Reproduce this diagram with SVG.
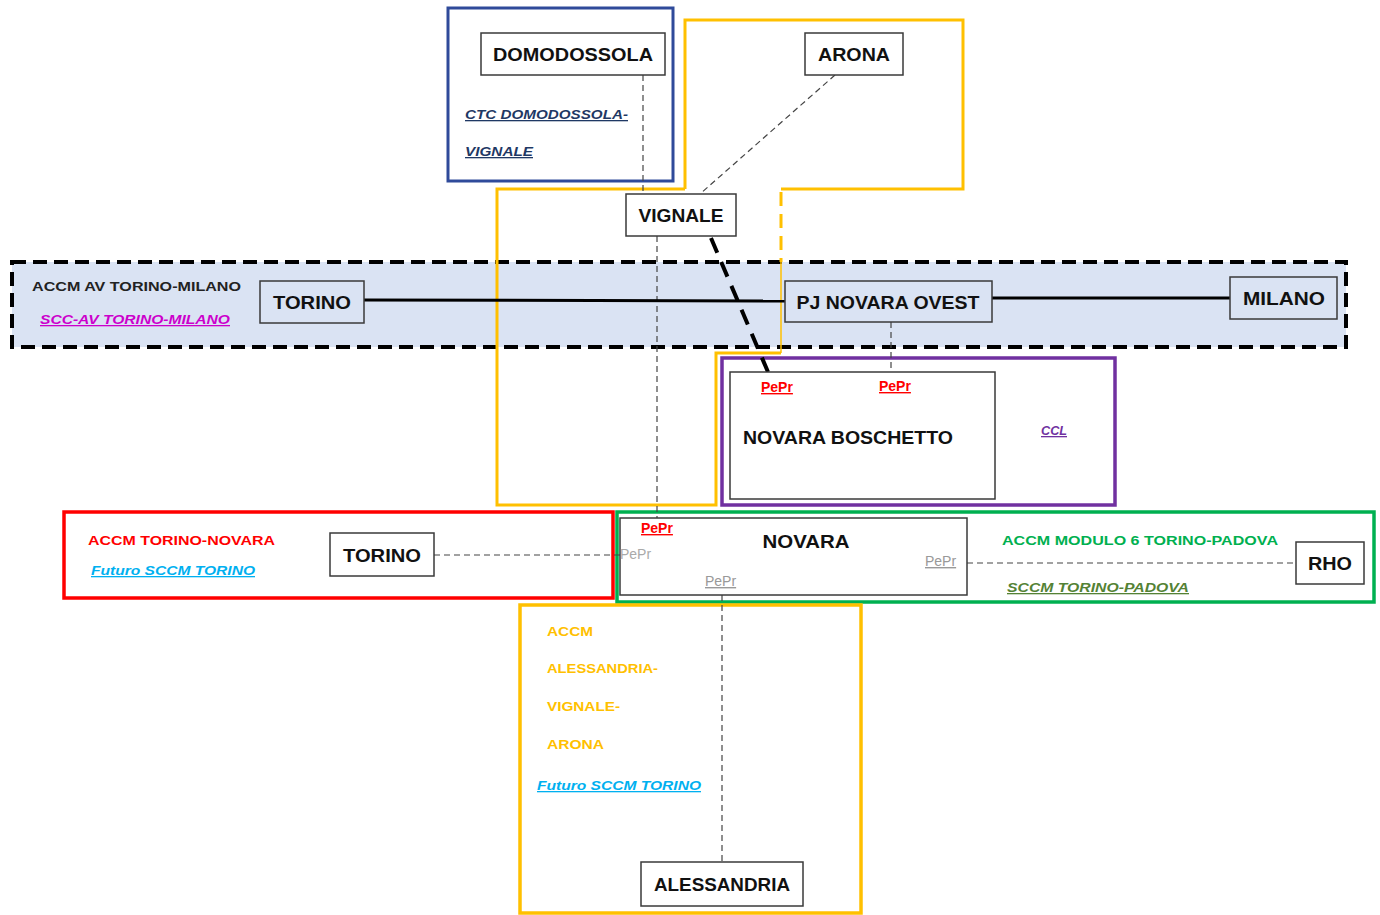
<svg xmlns="http://www.w3.org/2000/svg" width="1380" height="915" viewBox="0 0 1380 915">
<style>
  .node rect { fill: #ffffff; stroke: #3a3a3a; stroke-width: 1.5; }
  .nodeT rect { fill: #dae3f3; stroke: #3a3a3a; stroke-width: 1.5; }
  .lbl { font-family: "Liberation Sans", Arial, sans-serif; font-weight: bold; font-size: 19px; fill: #111; }
  .sm { font-family: "Liberation Sans", Arial, sans-serif; font-weight: bold; font-size: 13px; }
  .it { font-style: italic; text-decoration: underline; }
  .pepr { font-family: "Liberation Sans", Arial, sans-serif; font-size: 14px; }
  .dash { fill: none; stroke: #444; stroke-width: 1.2; stroke-dasharray: 6 4; }
</style>

<!-- background -->
<rect x="0" y="0" width="1380" height="915" fill="#ffffff"/>

<!-- regions -->
<g id="region-av">
  <rect x="12" y="262" width="1334" height="85" fill="#dae3f3" stroke="#000" stroke-width="4" stroke-dasharray="14 7"/>
</g>
<g id="region-ctc">
  <rect x="448" y="8" width="225" height="173" fill="none" stroke="#2f4a9a" stroke-width="3"/>
</g>
<g id="region-yellow-top">
  <path d="M685,189 L685,20 L963,20 L963,189 L781,189 M781,353 L716,353 L716,505 L497,505 L497,189 L685,189" fill="none" stroke="#ffc000" stroke-width="3"/>
  <line x1="781" y1="192" x2="781" y2="262" stroke="#ffc000" stroke-width="3" stroke-dasharray="14 8"/>
  <line x1="781" y1="262" x2="781" y2="353" stroke="#ffc000" stroke-width="1.5"/>
</g>
<g id="region-ccl">
  <rect x="722" y="358" width="393" height="147" fill="#ffffff" stroke="#7030a0" stroke-width="3.5"/>
</g>
<g id="region-red">
  <rect x="64" y="512" width="549" height="86" fill="#ffffff" stroke="#ff0000" stroke-width="3.5"/>
</g>
<g id="region-green">
  <rect x="617" y="512" width="757" height="90" fill="#ffffff" stroke="#00b050" stroke-width="3.5"/>
</g>
<g id="region-yellow-bottom">
  <rect x="520" y="605" width="341" height="308" fill="#ffffff" stroke="#ffc000" stroke-width="3.5"/>
</g>

<!-- connectors -->
<g id="connectors">
  <line class="dash" x1="643" y1="75" x2="643" y2="194"/>
  <line class="dash" x1="835" y1="75" x2="700" y2="194"/>
  <line class="dash" x1="657" y1="236" x2="657" y2="518" stroke="#666"/>
  <line x1="711" y1="238" x2="768" y2="372" stroke="#000" stroke-width="4" stroke-dasharray="16 10"/>
  <line x1="364" y1="300" x2="785" y2="301" stroke="#000" stroke-width="3"/>
  <line x1="992" y1="298" x2="1230" y2="298" stroke="#000" stroke-width="3"/>
  <line class="dash" x1="891" y1="322" x2="891" y2="372"/>
  <line class="dash" x1="434" y1="555" x2="620" y2="555"/>
  <line class="dash" x1="967" y1="563" x2="1296" y2="563" stroke="#777" stroke-width="1.8"/>
  <line class="dash" x1="722" y1="595" x2="722" y2="862"/>
</g>

<!-- region labels -->
<g id="labels">
  <text class="sm it" x="465" y="119" fill="#1f3864" textLength="163" lengthAdjust="spacingAndGlyphs">CTC DOMODOSSOLA-</text>
  <text class="sm it" x="465" y="156" fill="#1f3864" textLength="68" lengthAdjust="spacingAndGlyphs">VIGNALE</text>
  <text class="sm" x="32" y="291" fill="#222" textLength="209" lengthAdjust="spacingAndGlyphs">ACCM AV TORINO-MILANO</text>
  <text class="sm it" x="40" y="324" fill="#cc00cc" textLength="190" lengthAdjust="spacingAndGlyphs">SCC-AV TORINO-MILANO</text>
  <text class="sm it" x="1041" y="435" fill="#7030a0" textLength="26" lengthAdjust="spacingAndGlyphs">CCL</text>
  <text class="sm" x="88" y="545" fill="#ff0000" textLength="187" lengthAdjust="spacingAndGlyphs">ACCM TORINO-NOVARA</text>
  <text class="sm it" x="91" y="575" fill="#00b0f0" textLength="164" lengthAdjust="spacingAndGlyphs">Futuro SCCM TORINO</text>
  <text class="sm" x="1002" y="545" fill="#00b050" textLength="276" lengthAdjust="spacingAndGlyphs">ACCM MODULO 6 TORINO-PADOVA</text>
  <text class="sm it" x="1007" y="592" fill="#548235" textLength="182" lengthAdjust="spacingAndGlyphs">SCCM TORINO-PADOVA</text>
  <text class="sm" x="547" y="636" fill="#ffc000" textLength="46" lengthAdjust="spacingAndGlyphs">ACCM</text>
  <text class="sm" x="547" y="673" fill="#ffc000" textLength="111" lengthAdjust="spacingAndGlyphs">ALESSANDRIA-</text>
  <text class="sm" x="547" y="711" fill="#ffc000" textLength="73" lengthAdjust="spacingAndGlyphs">VIGNALE-</text>
  <text class="sm" x="547" y="749" fill="#ffc000" textLength="57" lengthAdjust="spacingAndGlyphs">ARONA</text>
  <text class="sm it" x="537" y="790" fill="#00b0f0" textLength="164" lengthAdjust="spacingAndGlyphs">Futuro SCCM TORINO</text>
</g>

<!-- nodes -->
<g id="node-domodossola" class="node">
  <rect x="481" y="33" width="184" height="42"/>
  <text class="lbl" x="573" y="61" text-anchor="middle" textLength="160" lengthAdjust="spacingAndGlyphs">DOMODOSSOLA</text>
</g>
<g id="node-arona" class="node">
  <rect x="805" y="33" width="98" height="42"/>
  <text class="lbl" x="854" y="61" text-anchor="middle" textLength="72" lengthAdjust="spacingAndGlyphs">ARONA</text>
</g>
<g id="node-vignale" class="node">
  <rect x="626" y="194" width="110" height="42"/>
  <text class="lbl" x="681" y="222" text-anchor="middle" textLength="85" lengthAdjust="spacingAndGlyphs">VIGNALE</text>
</g>
<g id="node-torino-av" class="nodeT">
  <rect x="260" y="281" width="104" height="42"/>
  <text class="lbl" x="312" y="309" text-anchor="middle" textLength="78" lengthAdjust="spacingAndGlyphs">TORINO</text>
</g>
<g id="node-pj-novara-ovest" class="nodeT">
  <rect x="785" y="281" width="207" height="41"/>
  <text class="lbl" x="888" y="309" text-anchor="middle" textLength="183" lengthAdjust="spacingAndGlyphs">PJ NOVARA OVEST</text>
</g>
<g id="node-milano" class="nodeT">
  <rect x="1230" y="277" width="107" height="42"/>
  <text class="lbl" x="1284" y="305" text-anchor="middle" textLength="82" lengthAdjust="spacingAndGlyphs">MILANO</text>
</g>
<g id="node-novara-boschetto" class="node">
  <rect x="730" y="372" width="265" height="127" stroke="#666"/>
  <text class="lbl" x="743" y="444" textLength="210" lengthAdjust="spacingAndGlyphs">NOVARA BOSCHETTO</text>
  <text class="pepr" x="761" y="392" fill="#ff0000" font-weight="bold" text-decoration="underline">PePr</text>
  <text class="pepr" x="879" y="391" fill="#ff0000" font-weight="bold" text-decoration="underline">PePr</text>
</g>
<g id="node-torino" class="node">
  <rect x="330" y="533" width="104" height="43"/>
  <text class="lbl" x="382" y="562" text-anchor="middle" textLength="78" lengthAdjust="spacingAndGlyphs">TORINO</text>
</g>
<g id="node-novara" class="node">
  <rect x="620" y="518" width="347" height="77" stroke="#555"/>
  <text class="lbl" x="806" y="548" text-anchor="middle" textLength="87" lengthAdjust="spacingAndGlyphs">NOVARA</text>
  <text class="pepr" x="641" y="533" fill="#ff0000" font-weight="bold" text-decoration="underline">PePr</text>
  <text class="pepr" x="620" y="559" fill="#aaaaaa">PePr</text>
  <text class="pepr" x="705" y="586" fill="#999999" text-decoration="underline">PePr</text>
  <text class="pepr" x="925" y="566" fill="#999999" text-decoration="underline">PePr</text>
</g>
<g id="node-rho" class="node">
  <rect x="1296" y="542" width="68" height="42"/>
  <text class="lbl" x="1330" y="570" text-anchor="middle" textLength="44" lengthAdjust="spacingAndGlyphs">RHO</text>
</g>
<g id="node-alessandria" class="node">
  <rect x="641" y="862" width="162" height="44"/>
  <text class="lbl" x="722" y="891" text-anchor="middle" textLength="136" lengthAdjust="spacingAndGlyphs">ALESSANDRIA</text>
</g>
</svg>
